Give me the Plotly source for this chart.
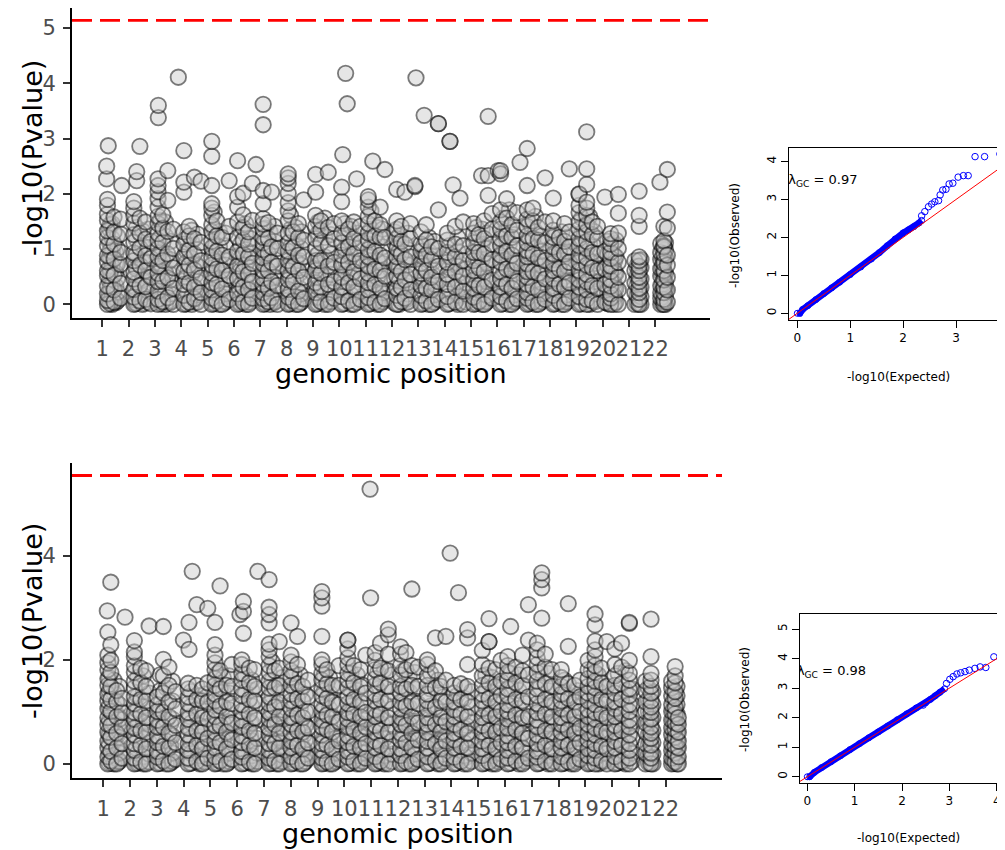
import plotly.graph_objects as go

# page body adds an 8px margin; the figure is shrunk and shifted so that
# reference pixel positions land where they belong in the 1005x850 window
OFF = 8
W, H = 1005 - OFF, 850 - OFF

# ---------------- Manhattan data (x = chromosome + relative position, values = -log10 P) -------------
chrom_ticks = list(range(1, 23))
chrom_labels = [str(c) for c in chrom_ticks]

top_col_x = [
    1.30, 1.20, 1.17, 1.23, 1.45, 1.70, 1.74,
    2.20, 2.31, 2.43, 2.65, 2.85,
    3.12, 3.13, 3.30, 3.49, 3.70,
    3.89, 4.10, 4.30, 4.50, 4.75,
    5.16, 5.35, 5.55, 5.82,
    6.14, 6.35, 6.55, 6.70, 6.84,
    7.11, 7.30, 7.43, 7.65,
    8.06, 8.25, 8.45, 8.65,
    9.10, 9.30, 9.58, 9.80,
    10.09, 10.13, 10.24, 10.30, 10.35, 10.55, 10.66, 10.80,
    11.10, 11.27, 11.35, 11.55, 11.73,
    12.18, 12.35, 12.49, 12.70, 12.87, 12.91,
    13.10, 13.22, 13.30, 13.50, 13.76,
    14.10, 14.20, 14.32, 14.40, 14.58, 14.70,
    15.10, 15.30, 15.40, 15.50, 15.65, 15.80,
    16.03, 16.12, 16.35, 16.55, 16.75, 16.86,
    17.13, 17.35, 17.55, 17.81,
    18.12, 18.35, 18.55, 18.73,
    19.10, 19.39, 19.60, 19.80,
    20.08, 20.30, 20.59,
    21.22, 21.38,
    22.20, 22.17, 22.32, 22.45,
]
top_col_y = [
    [0.02, 0.31, 0.58, 0.97, 1.44], [0.0, 0.07, 0.19, 0.33, 0.52, 0.61, 0.77, 0.88, 1.06, 1.21, 1.33, 1.52, 1.63, 1.79, 1.9],
    [2.27, 2.50], [2.87], [0.04, 0.26, 0.53, 0.82, 1.09, 1.31, 1.58], [0.11, 0.38, 0.72, 0.94, 1.27, 1.54], [2.15],
    [0.0, 0.13, 0.27, 0.46, 0.58, 0.79, 0.93, 1.12, 1.26, 1.47, 1.61, 1.74, 1.86], [2.24, 2.40],
    [0.06, 0.34, 0.71, 1.02, 1.29, 1.56, 2.86], [0.09, 0.32, 0.61, 0.88, 1.18, 1.49], [0.01, 0.49, 0.83, 1.14],
    [0.0, 0.09, 0.24, 0.41, 0.56, 0.69, 0.86, 1.01, 1.16, 1.28, 1.46, 1.59, 1.76, 1.91, 2.04, 2.15, 2.27], [3.38, 3.60],
    [0.05, 0.42, 0.79, 1.12, 1.38, 1.62], [0.12, 0.48, 0.91, 1.32, 1.88, 2.42], [0.0, 0.29, 0.66, 1.01, 1.36],
    [4.11], [0.0, 0.16, 0.36, 0.59, 0.86, 1.09, 1.31, 2.03, 2.21, 2.78], [0.04, 0.39, 0.71, 0.98, 1.24, 1.41],
    [0.1, 0.31, 0.62, 0.91, 1.19, 2.30], [0.0, 0.21, 0.48, 0.79, 1.12, 2.23],
    [0.0, 0.11, 0.26, 0.39, 0.56, 0.71, 0.84, 1.02, 1.14, 1.31, 1.44, 1.61, 1.74, 1.82, 2.15, 2.68, 2.95],
    [0.06, 0.36, 0.64, 0.96, 1.24, 1.51], [0.0, 0.28, 0.61, 0.89, 1.21], [0.09, 0.52, 0.86, 1.41, 2.24],
    [0.0, 0.19, 0.46, 0.69, 0.96, 1.21, 1.49, 1.76, 1.95, 2.60], [0.04, 0.31, 0.59, 0.91, 1.16, 1.39, 1.62, 2.01],
    [0.0, 0.26, 0.54, 0.86, 1.09, 1.31], [0.11, 0.41, 0.74, 1.52, 2.19], [2.53],
    [0.0, 0.1, 0.21, 0.36, 0.47, 0.61, 0.73, 0.84, 0.99, 1.11, 1.21, 1.36, 1.45, 1.55, 1.82, 2.06, 3.25, 3.62],
    [0.05, 0.29, 0.61, 0.92, 1.19, 1.48], [0.12, 0.41, 0.76, 1.04, 2.03], [0.0, 0.34, 0.69, 1.01, 1.29],
    [0.0, 0.13, 0.27, 0.44, 0.61, 0.79, 0.96, 1.11, 1.29, 1.51, 1.69, 1.84, 2.01, 2.19, 2.29, 2.36],
    [0.06, 0.41, 0.68, 1.02, 1.31], [0.0, 0.24, 0.61, 0.89, 1.21, 1.46], [0.1, 0.49, 0.86, 1.16, 1.89],
    [0.0, 0.21, 0.39, 0.61, 0.79, 1.01, 1.19, 1.41, 1.61, 2.03, 2.35], [0.05, 0.31, 0.56, 0.79, 1.11, 1.34, 1.51],
    [0.0, 0.36, 0.69, 1.06, 1.39, 2.39], [0.11, 0.41, 0.76, 1.19, 1.46],
    [0.0, 0.14, 0.31, 0.49, 0.71, 0.89, 1.11, 1.29, 1.51, 1.86, 2.12], [2.71], [4.18], [3.63],
    [0.06, 0.39, 0.76, 1.04, 1.36], [0.0, 0.31, 0.59, 0.91, 1.19, 1.49], [2.27], [0.09, 0.46, 0.79, 1.11, 1.41],
    [0.0, 0.12, 0.26, 0.39, 0.56, 0.69, 0.86, 0.99, 1.16, 1.29, 1.46, 1.59, 1.76, 1.89, 1.95], [2.59],
    [0.04, 0.36, 0.64, 0.96, 1.24, 1.51], [0.0, 0.29, 0.61, 0.89, 1.21, 1.44, 1.76], [0.1, 0.51, 0.84, 1.21, 2.44],
    [0.0, 0.16, 0.29, 0.51, 0.69, 0.86, 1.01, 1.19, 1.36, 1.51, 2.08], [0.05, 0.31, 0.59, 0.91, 1.14, 1.41],
    [0.11, 0.44, 0.81, 1.09, 2.03], [0.0, 0.26, 0.54, 0.86, 1.19, 1.46], [2.13, 2.15], [4.10],
    [0.0, 0.16, 0.34, 0.56, 0.74, 0.96, 1.09, 1.31], [3.42], [0.06, 0.29, 0.61, 0.89, 1.16, 1.44],
    [0.0, 0.26, 0.49, 0.81, 1.04], [0.09, 0.41, 0.69, 1.01, 1.71, 3.27, 3.27],
    [0.0, 0.14, 0.36, 0.54, 0.76, 0.94, 1.16, 1.29], [2.95, 2.95], [2.16], [0.04, 0.31, 0.59, 0.86, 1.09, 1.41],
    [1.92], [0.0, 0.24, 0.51, 0.79, 1.06, 1.49],
    [0.0, 0.13, 0.29, 0.44, 0.61, 0.79, 0.94, 1.11, 1.29, 1.46], [0.05, 0.34, 0.66, 0.94, 1.26], [2.33],
    [0.0, 0.31, 0.59, 0.91, 1.19, 1.51], [1.97, 2.33, 3.40], [0.11, 0.44, 0.81, 1.09, 1.36, 1.64],
    [2.42], [0.0, 0.14, 0.31, 0.46, 0.59, 0.76, 0.89, 1.06, 1.19, 1.36, 1.49, 1.71, 2.36, 2.42],
    [0.06, 0.36, 0.64, 0.96, 1.24, 1.56, 1.91], [0.0, 0.29, 0.61, 0.89, 1.21, 1.44],
    [0.1, 0.41, 0.74, 1.06, 1.34, 1.66], [2.57],
    [0.0, 0.11, 0.21, 0.36, 0.49, 0.59, 0.73, 0.86, 0.97, 1.11, 1.24, 1.41, 1.54, 1.71, 2.15, 2.82],
    [0.04, 0.31, 0.59, 0.91, 1.19, 1.51, 1.74], [0.0, 0.26, 0.56, 0.84, 1.16, 1.39], [0.09, 0.46, 0.79, 1.11, 1.49, 2.29],
    [0.0, 0.16, 0.29, 0.46, 0.61, 0.74, 0.91, 1.04, 1.21, 1.34, 1.51, 1.92], [0.05, 0.36, 0.64, 0.94, 1.21],
    [0.0, 0.31, 0.59, 0.91, 1.14, 1.46], [0.11, 0.39, 0.76, 1.04, 1.31, 2.45],
    [0.0, 0.14, 0.31, 0.44, 0.61, 0.76, 0.89, 1.06, 1.19, 1.36, 1.49, 1.66, 1.79, 1.99, 2.0],
    [0.0, 0.09, 0.26, 0.41, 0.54, 0.71, 0.84, 1.01, 1.14, 1.31, 1.44, 1.61, 1.74, 1.85, 2.17, 2.45, 3.12],
    [0.06, 0.34, 0.66, 0.94, 1.26, 1.49], [0.0, 0.29, 0.61, 0.91, 1.19, 1.41],
    [0.04, 0.36, 0.64, 0.96, 1.94], [0.0, 0.11, 0.19, 0.33, 0.44, 0.59, 0.69, 0.83, 0.94, 1.09, 1.19, 1.28],
    [0.0, 0.26, 0.49, 0.76, 1.01, 1.29, 1.65, 1.99],
    [0.0, 0.21, 0.39, 0.61, 0.79], [0.0, 0.09, 0.21, 0.29, 0.41, 0.49, 0.61, 0.69, 0.79, 0.86, 1.41, 1.61, 2.05],
    [0.0, 0.11, 0.21, 0.34, 0.51, 0.64, 0.81, 0.94, 1.1], [2.21],
    [0.05, 0.29, 0.56, 0.79, 1.06, 1.41, 0.0, 0.09, 0.21, 0.31, 0.44, 0.61, 0.74, 0.91, 1.04, 1.15],
    [0.04, 0.26, 0.49, 0.71, 0.89, 1.38, 1.67, 2.44],
]

# additional (less prominent) SNP stacks filling each chromosome block
top_fill_x = [
    1.27, 1.38, 1.58, 2.30, 2.53, 2.75, 3.20, 3.40, 3.60, 4.20, 4.40, 4.62,
    5.25, 5.45, 5.68, 6.25, 6.45, 6.62, 7.20, 7.37, 7.55, 8.15, 8.35, 8.56,
    9.20, 9.45, 9.68, 10.20, 10.45, 10.70, 11.20, 11.45, 11.65, 12.10, 12.27, 12.60,
    13.20, 13.40, 13.62, 14.18, 14.50, 14.82, 15.20, 15.42, 15.60, 16.22, 16.45, 16.65,
    17.22, 17.45, 17.68, 18.20, 18.45, 18.64, 19.20, 19.50, 19.70, 20.18, 20.42, 20.50,
    21.30, 21.45, 22.26, 22.38,
]
top_fill_y = [
    [0.03, 0.18, 0.42, 0.66, 0.86, 1.13, 1.37], [0.0, 0.14, 0.36, 0.69, 0.95, 1.19, 1.46], [0.06, 0.22, 0.47, 0.73, 1.01, 1.24],
    [0.02, 0.19, 0.39, 0.64, 0.91, 1.17, 1.39], [0.0, 0.16, 0.44, 0.77, 1.06, 1.33], [0.04, 0.24, 0.53, 0.76, 1.03, 1.36],
    [0.02, 0.17, 0.46, 0.74, 0.93, 1.21, 1.52], [0.0, 0.21, 0.57, 0.86, 1.24, 1.49], [0.05, 0.19, 0.44, 0.81, 1.14],
    [0.01, 0.23, 0.49, 0.76, 0.97, 1.19], [0.0, 0.14, 0.54, 0.83, 1.13, 1.34], [0.04, 0.17, 0.41, 0.69, 0.99, 1.27],
    [0.02, 0.21, 0.47, 0.79, 1.07, 1.36, 1.67], [0.0, 0.16, 0.43, 0.74, 1.04, 1.32], [0.05, 0.19, 0.46, 0.71, 1.06, 1.29],
    [0.02, 0.13, 0.36, 0.61, 0.84, 1.09, 1.34], [0.0, 0.17, 0.44, 0.71, 0.99, 1.26, 1.46], [0.04, 0.19, 0.39, 0.66, 0.94, 1.19],
    [0.02, 0.16, 0.41, 0.66, 0.91, 1.16, 1.38], [0.0, 0.19, 0.46, 0.74, 1.01, 1.31], [0.05, 0.21, 0.49, 0.81, 1.14, 1.41],
    [0.02, 0.21, 0.51, 0.74, 1.04, 1.36, 1.61], [0.0, 0.14, 0.46, 0.79, 1.09, 1.39], [0.04, 0.19, 0.39, 0.71, 1.01, 1.31],
    [0.02, 0.13, 0.31, 0.49, 0.71, 0.91, 1.29, 1.49], [0.0, 0.19, 0.46, 0.86, 1.21, 1.56], [0.05, 0.21, 0.54, 0.91, 1.26],
    [0.02, 0.21, 0.41, 0.61, 0.81, 1.01, 1.24, 1.46], [0.0, 0.17, 0.49, 0.86, 1.14, 1.41], [0.04, 0.23, 0.51, 0.73, 1.01, 1.29],
    [0.02, 0.19, 0.46, 0.79, 1.06, 1.36, 1.69], [0.0, 0.17, 0.49, 0.79, 1.11, 1.39], [0.05, 0.21, 0.46, 0.74, 1.04, 1.36],
    [0.02, 0.24, 0.46, 0.76, 1.11, 1.31], [0.0, 0.21, 0.41, 0.66, 0.96, 1.24], [0.05, 0.19, 0.39, 0.71, 0.99, 1.29],
    [0.02, 0.24, 0.46, 0.66, 0.86, 1.06], [0.0, 0.14, 0.41, 0.71, 0.96, 1.21], [0.04, 0.17, 0.36, 0.61, 0.89, 1.14],
    [0.02, 0.24, 0.46, 0.66, 0.86, 1.06], [0.0, 0.16, 0.41, 0.69, 0.96, 1.21], [0.04, 0.19, 0.39, 0.64, 0.91],
    [0.02, 0.21, 0.39, 0.56, 0.84, 1.04, 1.21, 1.39], [0.0, 0.19, 0.46, 0.81, 1.09, 1.36], [0.05, 0.16, 0.41, 0.74, 1.01, 1.29],
    [0.02, 0.21, 0.39, 0.54, 0.84, 1.11, 1.29, 1.56], [0.0, 0.19, 0.46, 0.79, 1.09, 1.39, 1.71], [0.05, 0.17, 0.44, 0.76, 1.01, 1.26],
    [0.02, 0.16, 0.29, 0.44, 0.66, 0.91, 1.19, 1.46], [0.0, 0.17, 0.44, 0.74, 1.04, 1.31, 1.59], [0.05, 0.19, 0.39, 0.71, 0.96, 1.24],
    [0.02, 0.21, 0.39, 0.56, 0.81, 1.11, 1.26], [0.0, 0.19, 0.46, 0.79, 1.06, 1.31], [0.05, 0.17, 0.44, 0.69, 0.96, 1.21],
    [0.02, 0.21, 0.39, 0.54, 0.84, 1.11, 1.29, 1.56], [0.0, 0.17, 0.46, 0.79, 1.09, 1.39, 1.59], [0.05, 0.19, 0.41, 0.74, 1.04, 1.31],
    [0.02, 0.21, 0.46, 0.71, 0.91, 1.14], [0.0, 0.16, 0.39, 0.64, 0.89, 1.11], [0.04, 0.29, 0.56, 0.86, 1.16],
    [0.02, 0.16, 0.34, 0.51, 0.69], [0.0, 0.14, 0.31, 0.46, 0.66, 0.81],
    [0.02, 0.16, 0.36, 0.54, 0.69, 0.86, 1.01], [0.0, 0.14, 0.26, 0.39, 0.56, 0.84, 0.99, 1.11],
]

# many low-significance SNPs near the base of each chromosome block
top_base_x = [
    1.34, 1.52, 2.25, 2.58, 3.25, 3.55, 4.15, 4.55, 5.21, 5.62, 6.20, 6.50,
    7.16, 7.50, 8.10, 8.50, 9.15, 9.52, 10.15, 10.50, 11.15, 11.50, 12.22, 12.55,
    13.15, 13.55, 14.15, 14.55, 15.15, 15.55, 16.18, 16.60, 17.18, 17.60, 18.16, 18.60,
    19.15, 19.55, 20.20, 20.45, 21.34, 22.28,
]
top_base_y = [
    [0.01, 0.12, 0.27, 0.49, 0.63, 0.81], [0.03, 0.09, 0.33, 0.57, 0.74, 0.93],
    [0.01, 0.08, 0.31, 0.52, 0.69, 0.88], [0.02, 0.11, 0.24, 0.47, 0.66, 0.79],
    [0.01, 0.13, 0.29, 0.51, 0.71, 0.97], [0.02, 0.07, 0.34, 0.56, 0.78],
    [0.01, 0.09, 0.28, 0.44, 0.69, 0.91], [0.03, 0.12, 0.26, 0.53, 0.74],
    [0.01, 0.08, 0.31, 0.49, 0.66, 0.93], [0.02, 0.13, 0.36, 0.58, 0.81],
    [0.01, 0.11, 0.27, 0.51, 0.73, 0.89], [0.03, 0.09, 0.32, 0.54, 0.77],
    [0.01, 0.14, 0.29, 0.52, 0.76, 0.94], [0.02, 0.08, 0.27, 0.49, 0.71],
    [0.01, 0.09, 0.33, 0.51, 0.72, 0.91], [0.02, 0.12, 0.29, 0.56, 0.79],
    [0.01, 0.11, 0.26, 0.48, 0.69, 0.89], [0.03, 0.09, 0.31, 0.53, 0.76],
    [0.01, 0.13, 0.28, 0.51, 0.73, 0.96], [0.02, 0.08, 0.34, 0.56, 0.79],
    [0.01, 0.09, 0.31, 0.49, 0.71, 0.94], [0.02, 0.12, 0.27, 0.53, 0.76],
    [0.01, 0.11, 0.29, 0.52, 0.74, 0.91], [0.03, 0.09, 0.33, 0.51, 0.78],
    [0.01, 0.12, 0.27, 0.49, 0.69, 0.86], [0.02, 0.08, 0.31, 0.54, 0.76],
    [0.01, 0.09, 0.28, 0.51, 0.71, 0.89], [0.03, 0.13, 0.32, 0.56, 0.74],
    [0.01, 0.11, 0.31, 0.52, 0.73, 0.94], [0.02, 0.09, 0.27, 0.49, 0.77],
    [0.01, 0.12, 0.29, 0.51, 0.76, 0.93], [0.03, 0.08, 0.33, 0.54, 0.79],
    [0.01, 0.09, 0.27, 0.49, 0.72, 0.96], [0.02, 0.13, 0.31, 0.56, 0.78],
    [0.01, 0.11, 0.33, 0.52, 0.71, 0.89], [0.03, 0.09, 0.28, 0.51, 0.76],
    [0.01, 0.12, 0.29, 0.51, 0.74, 0.93], [0.02, 0.08, 0.32, 0.54, 0.77],
    [0.01, 0.09, 0.27, 0.49, 0.69, 0.91], [0.03, 0.13, 0.31, 0.56, 0.79],
    [0.01, 0.11, 0.26, 0.44, 0.62], [0.01, 0.08, 0.23, 0.41, 0.63, 0.81],
]

bot_col_x = [
    1.17, 1.15, 1.28, 1.50, 1.70, 1.81,
    2.16, 2.40, 2.60, 2.71,
    3.02, 3.24, 3.45, 3.70, 3.99,
    4.17, 4.20, 4.32, 4.49, 4.70, 4.90,
    5.17, 5.36, 5.60, 5.80,
    6.10, 6.17, 6.23, 6.45, 6.65, 6.77,
    7.19, 7.40, 7.57,
    8.01, 8.25, 8.45, 8.65,
    9.16, 9.35, 9.55, 9.80,
    10.13, 10.35, 10.60, 10.80,
    10.96, 10.98, 11.15, 11.35, 11.64,
    12.10, 12.30, 12.52, 12.75,
    13.10, 13.40, 13.60, 13.79,
    13.95, 14.10, 14.26, 14.35, 14.60,
    15.15, 15.40, 15.65, 15.85,
    16.10, 16.21, 16.40, 16.65, 16.87,
    17.20, 17.37, 17.50, 17.75,
    18.10, 18.36, 18.60, 18.80,
    19.10, 19.36, 19.60, 19.80,
    20.10, 20.35, 20.64,
    21.25, 21.45,
    22.22, 22.35, 22.47,
]
bot_col_y = [
    [0.0, 0.14, 0.31, 0.44, 0.61, 0.76, 0.89, 1.06, 1.21, 1.34, 1.51, 1.64, 1.81, 1.94, 2.09, 2.53], [2.94],
    [0.06, 0.24, 0.51, 0.74, 1.01, 1.24, 1.49, 1.76, 1.99, 2.29, 3.49], [0.0, 0.31, 0.59, 0.91, 1.19, 1.41],
    [0.11, 0.39, 0.71, 0.99, 1.26], [2.82],
    [0.0, 0.11, 0.26, 0.39, 0.56, 0.69, 0.86, 0.99, 1.16, 1.29, 1.46, 1.59, 1.76, 1.89, 2.06, 2.15, 2.37],
    [0.04, 0.36, 0.64, 0.96, 1.24, 1.56, 1.84], [0.0, 0.29, 0.61, 0.89, 1.21, 1.49, 1.79], [2.65],
    [0.0, 0.13, 0.24, 0.41, 0.54, 0.71, 0.84, 1.01, 1.14, 1.29], [0.06, 0.34, 0.71, 0.99, 1.36, 1.69, 2.01, 2.64],
    [0.0, 0.31, 0.59, 0.91, 1.19, 1.51, 1.86], [0.09, 0.41, 0.74, 1.06, 1.39], [2.38],
    [0.0, 0.11, 0.26, 0.39, 0.56, 0.69, 0.86, 0.99, 1.16, 1.29, 1.44, 1.55], [2.20, 2.72], [3.70],
    [0.05, 0.36, 0.64, 0.96, 1.24, 1.51, 3.06], [0.0, 0.29, 0.61, 0.89, 1.21, 1.44], [0.11, 0.49, 0.86, 1.19, 1.56, 2.99],
    [0.0, 0.14, 0.31, 0.44, 0.61, 0.74, 0.91, 1.04, 1.21, 1.34, 1.51, 1.64, 1.81, 1.94, 2.09, 2.29, 2.72],
    [0.06, 0.41, 0.74, 1.11, 1.44, 1.79, 3.42], [0.0, 0.29, 0.61, 0.91, 1.19, 1.51], [0.09, 0.46, 0.79, 1.16, 1.49, 1.91],
    [2.87], [0.0, 0.13, 0.24, 0.41, 0.54, 0.71, 0.84, 1.01, 1.14, 1.31, 1.44, 1.61, 1.74, 1.91, 2.0],
    [2.51, 2.93, 3.12], [0.04, 0.36, 0.64, 0.96, 1.24, 1.56, 1.84], [0.0, 0.31, 0.59, 0.89, 1.21, 1.49, 1.81], [3.70],
    [0.0, 0.11, 0.26, 0.39, 0.56, 0.69, 0.86, 0.99, 1.16, 1.29, 1.46, 1.59, 1.76, 1.89, 2.06, 2.19, 2.3, 2.71, 2.87, 3.01, 3.54],
    [0.06, 0.39, 0.76, 1.09, 1.46, 1.79], [0.0, 0.31, 0.59, 0.91, 1.19, 1.51, 1.84, 2.35],
    [0.0, 0.14, 0.31, 0.44, 0.61, 0.76, 0.89, 1.06, 1.21, 1.34, 1.51, 1.66, 1.79, 1.96, 2.09, 2.71],
    [0.05, 0.36, 0.64, 0.94, 1.26, 1.54, 1.91, 2.45], [0.0, 0.29, 0.61, 0.89, 1.21, 1.49], [0.11, 0.41, 0.69, 1.01, 1.29, 1.61],
    [0.0, 0.11, 0.26, 0.39, 0.56, 0.71, 0.84, 1.01, 1.14, 1.31, 1.44, 1.61, 1.74, 1.91, 2.0, 2.45, 3.03, 3.19, 3.31],
    [0.04, 0.36, 0.66, 0.94, 1.26, 1.54, 1.81], [0.0, 0.29, 0.61, 0.91, 1.19, 1.51], [0.09, 0.44, 0.81, 1.14, 1.51, 1.89],
    [0.0, 0.13, 0.24, 0.41, 0.54, 0.71, 0.86, 0.99, 1.16, 1.29, 1.46, 1.61, 1.74, 1.91, 2.04, 2.21, 2.38, 2.38],
    [0.06, 0.34, 0.66, 0.96, 1.24, 1.56, 1.89], [0.0, 0.31, 0.59, 0.91, 1.19, 1.49, 1.81], [0.11, 0.39, 0.71, 0.99, 1.36, 2.09],
    [5.28], [3.19], [0.0, 0.14, 0.31, 0.44, 0.61, 0.74, 0.91, 1.04, 1.21, 1.34, 1.51, 1.64, 1.81, 1.99, 2.14],
    [0.05, 0.36, 0.64, 0.96, 1.24, 1.56, 1.84, 2.32], [0.0, 0.29, 0.61, 0.89, 1.21, 1.49, 1.79, 2.11, 2.48, 2.59],
    [0.0, 0.16, 0.29, 0.46, 0.59, 0.76, 0.89, 1.06, 1.19, 1.36, 1.49, 1.71, 1.89, 2.11, 2.25],
    [0.04, 0.41, 0.74, 1.11, 1.44, 1.81, 2.14], [0.0, 0.31, 0.59, 0.91, 1.19, 1.51, 1.89, 3.36],
    [0.09, 0.46, 0.79, 1.16, 1.49, 1.86],
    [0.0, 0.14, 0.31, 0.44, 0.61, 0.76, 0.89, 1.06, 1.21, 1.34, 1.51, 1.69, 1.91, 2.0],
    [0.06, 0.39, 0.76, 1.09, 1.46, 1.79, 2.42], [0.0, 0.29, 0.61, 0.89, 1.21, 1.49], [0.11, 0.44, 0.81, 1.19, 1.61, 2.45],
    [4.05], [0.0, 0.13, 0.31, 0.46, 0.59, 0.76, 0.91, 1.04, 1.19, 1.36, 1.51], [3.29],
    [0.05, 0.34, 0.66, 0.96, 1.24, 1.54], [0.0, 0.31, 0.59, 0.91, 1.19, 1.49, 1.91, 2.42, 2.58],
    [0.0, 0.16, 0.29, 0.44, 0.61, 0.74, 0.89, 1.06, 1.21, 1.34, 1.51, 1.69, 1.91, 2.18],
    [0.04, 0.36, 0.64, 0.94, 1.26, 1.56, 1.84, 2.35, 2.35, 2.79], [0.0, 0.29, 0.61, 0.91, 1.19, 1.49, 1.81],
    [0.09, 0.41, 0.69, 1.01, 1.31, 1.59, 1.99],
    [0.0, 0.11, 0.26, 0.41, 0.54, 0.69, 0.86, 1.01, 1.14, 1.31, 1.44, 1.61, 1.76, 1.89, 2.06], [2.64],
    [0.06, 0.34, 0.66, 0.94, 1.24, 1.56, 1.86], [0.0, 0.31, 0.59, 0.89, 1.21, 1.51, 1.79, 2.09],
    [0.11, 0.49, 0.91, 1.29, 1.71, 2.38, 3.06],
    [0.0, 0.13, 0.24, 0.39, 0.56, 0.71, 0.84, 0.99, 1.16, 1.31, 1.44, 1.59, 1.76, 1.91, 2.04, 2.19, 2.32],
    [2.80, 3.38, 3.54, 3.67], [0.05, 0.36, 0.64, 0.96, 1.24, 1.54, 1.86, 2.11], [0.0, 0.29, 0.61, 0.91, 1.19, 1.49, 1.81],
    [0.0, 0.14, 0.31, 0.44, 0.61, 0.76, 0.89, 1.06, 1.21, 1.34, 1.49, 1.66, 1.81],
    [0.04, 0.36, 0.66, 0.94, 1.26, 1.54, 2.26, 3.08], [0.0, 0.31, 0.59, 0.91, 1.19, 1.51], [0.09, 0.41, 0.69, 1.01, 1.29, 1.61],
    [0.0, 0.16, 0.29, 0.46, 0.59, 0.76, 0.91, 1.04, 1.21, 1.36, 1.49, 1.64, 1.81, 1.99],
    [0.0, 0.11, 0.26, 0.39, 0.56, 0.69, 0.86, 0.99, 1.14, 1.31, 1.46, 1.59, 1.76, 1.89, 2.06, 2.19, 2.36, 2.67, 2.88],
    [0.06, 0.34, 0.64, 0.96, 1.24, 1.56, 1.84], [0.0, 0.29, 0.61, 0.89, 1.21, 1.49, 2.35],
    [0.0, 0.14, 0.31, 0.44, 0.61, 0.74, 0.91, 1.06, 1.19, 1.36, 1.51, 1.69, 1.91, 2.21],
    [0.05, 0.36, 0.64, 0.96, 1.24, 1.54, 1.86, 2.32],
    [0.0, 0.11, 0.26, 0.39, 0.56, 0.71, 0.84, 1.01, 1.14, 1.31, 1.44, 1.61, 1.74, 1.99, 2.70, 2.72],
    [0.0, 0.21, 0.39, 0.61, 0.79, 1.01, 1.19, 1.41, 1.59],
    [0.0, 0.11, 0.21, 0.36, 0.49, 0.59, 0.71, 0.86, 0.99, 1.09, 1.21, 1.36, 1.49, 1.61, 1.74, 2.06, 2.78],
    [0.0, 0.11, 0.26, 0.39, 0.56, 0.69, 0.84, 1.01, 1.14, 1.31, 1.46, 1.59],
    [0.04, 0.21, 0.34, 0.51, 0.66, 0.79, 0.96, 1.09, 1.26, 1.39, 1.56, 1.69, 1.87],
    [0.0, 0.14, 0.31, 0.44, 0.61, 0.76, 0.89],
]

bot_fill_x = [
    1.22, 1.40, 1.60, 2.28, 2.50, 2.72, 3.12, 3.35, 3.58, 4.28, 4.60, 4.80,
    5.26, 5.48, 5.70, 6.30, 6.55, 6.75, 7.30, 7.48, 7.68, 8.12, 8.35, 8.55,
    9.25, 9.45, 9.68, 10.25, 10.48, 10.70, 11.25, 11.50, 11.78, 12.20, 12.42, 12.63,
    13.22, 13.50, 13.70, 14.20, 14.48, 14.75, 15.28, 15.52, 15.75, 16.22, 16.52, 16.76,
    17.30, 17.62, 17.85, 18.22, 18.48, 18.70, 19.22, 19.48, 19.70, 20.22, 20.50, 20.75,
    21.35, 21.52, 22.28, 22.42,
]
bot_fill_y = [
    [0.02, 0.19, 0.38, 0.56, 0.83, 1.11, 1.39, 1.66], [0.0, 0.16, 0.44, 0.79, 1.09, 1.36, 1.61], [0.05, 0.21, 0.51, 0.86, 1.14, 1.49],
    [0.02, 0.21, 0.46, 0.74, 1.04, 1.31, 1.66], [0.0, 0.14, 0.49, 0.81, 1.11, 1.39, 1.69], [0.04, 0.19, 0.41, 0.76, 1.06, 1.36],
    [0.02, 0.19, 0.46, 0.79, 1.06, 1.41, 1.71], [0.0, 0.16, 0.44, 0.84, 1.14, 1.46], [0.05, 0.21, 0.54, 0.86, 1.21, 1.59],
    [0.02, 0.21, 0.49, 0.79, 1.11, 1.39], [0.0, 0.16, 0.44, 0.74, 1.06, 1.31], [0.04, 0.19, 0.39, 0.69, 1.01, 1.34],
    [0.02, 0.24, 0.51, 0.84, 1.16, 1.46, 1.74], [0.0, 0.17, 0.46, 0.79, 1.09, 1.39, 1.66], [0.05, 0.21, 0.49, 0.76, 1.04, 1.36, 1.69],
    [0.02, 0.19, 0.46, 0.76, 1.06, 1.39, 1.71], [0.0, 0.16, 0.44, 0.79, 1.11, 1.41, 1.61], [0.05, 0.21, 0.49, 0.84, 1.16, 1.44],
    [0.02, 0.19, 0.46, 0.74, 1.01, 1.31, 1.61, 1.96], [0.0, 0.21, 0.51, 0.84, 1.16, 1.51], [0.05, 0.17, 0.44, 0.69, 1.04, 1.36, 1.66],
    [0.02, 0.21, 0.49, 0.79, 1.11, 1.44, 1.74], [0.0, 0.16, 0.44, 0.76, 1.06, 1.39, 1.71], [0.05, 0.19, 0.46, 0.74, 1.01, 1.34],
    [0.02, 0.19, 0.46, 0.81, 1.09, 1.41, 1.71], [0.0, 0.16, 0.44, 0.76, 1.06, 1.36, 1.66], [0.05, 0.21, 0.49, 0.79, 1.14, 1.46],
    [0.02, 0.19, 0.49, 0.81, 1.11, 1.41, 1.74], [0.0, 0.16, 0.46, 0.79, 1.09, 1.41, 1.71], [0.05, 0.21, 0.51, 0.84, 1.16, 1.51],
    [0.02, 0.21, 0.46, 0.79, 1.11, 1.44, 1.76], [0.0, 0.16, 0.49, 0.84, 1.16, 1.46, 1.81], [0.05, 0.19, 0.44, 0.76, 1.06, 1.39, 1.71],
    [0.02, 0.21, 0.49, 0.81, 1.14, 1.46, 1.79], [0.0, 0.16, 0.44, 0.76, 1.09, 1.39, 1.69], [0.05, 0.19, 0.46, 0.79, 1.11, 1.44, 1.76],
    [0.02, 0.21, 0.49, 0.81, 1.11, 1.44, 1.74], [0.0, 0.16, 0.44, 0.76, 1.06, 1.36, 1.61], [0.05, 0.19, 0.46, 0.74, 1.01, 1.29],
    [0.02, 0.19, 0.44, 0.74, 1.04, 1.31], [0.0, 0.16, 0.41, 0.69, 0.99, 1.26, 1.46], [0.05, 0.21, 0.46, 0.79, 1.09, 1.39],
    [0.02, 0.19, 0.46, 0.79, 1.09, 1.41, 1.71], [0.0, 0.16, 0.44, 0.74, 1.06, 1.39, 1.66], [0.05, 0.21, 0.49, 0.81, 1.14, 1.46],
    [0.02, 0.19, 0.46, 0.79, 1.11, 1.44, 1.74], [0.0, 0.16, 0.44, 0.76, 1.06, 1.41, 1.71], [0.05, 0.21, 0.49, 0.84, 1.16, 1.49],
    [0.02, 0.19, 0.46, 0.79, 1.11, 1.46, 1.79], [0.0, 0.16, 0.44, 0.76, 1.09, 1.41, 1.74], [0.05, 0.21, 0.49, 0.81, 1.14, 1.49],
    [0.02, 0.19, 0.46, 0.76, 1.06, 1.36, 1.61], [0.0, 0.16, 0.44, 0.74, 1.04, 1.31], [0.05, 0.21, 0.49, 0.79, 1.09, 1.41],
    [0.02, 0.19, 0.46, 0.79, 1.11, 1.44, 1.79], [0.0, 0.16, 0.44, 0.76, 1.09, 1.41, 1.71], [0.05, 0.21, 0.49, 0.81, 1.14, 1.46],
    [0.02, 0.19, 0.46, 0.79, 1.11, 1.44, 1.74], [0.0, 0.16, 0.44, 0.76, 1.09, 1.41, 1.79], [0.05, 0.21, 0.49, 0.81, 1.14, 1.44],
    [0.02, 0.16, 0.36, 0.56, 0.79, 1.01, 1.24, 1.46], [0.0, 0.19, 0.41, 0.64, 0.89, 1.14, 1.39],
    [0.02, 0.16, 0.31, 0.49, 0.66, 0.84, 1.01, 1.21, 1.39], [0.0, 0.11, 0.29, 0.46, 0.61, 0.79, 0.96, 1.14, 1.31, 1.49],
]

bot_base_x = [
    1.33, 1.55, 2.22, 2.55, 3.08, 3.52, 4.24, 4.55, 5.22, 5.65, 6.22, 6.50,
    7.25, 7.52, 8.06, 8.50, 9.20, 9.60, 10.18, 10.55, 11.20, 11.42, 12.15, 12.58,
    13.15, 13.55, 14.15, 14.55, 15.20, 15.60, 16.15, 16.60, 17.25, 17.68, 18.16, 18.55,
    19.16, 19.55, 20.16, 20.42, 21.40, 22.30,
]
bot_base_y = [
    [0.01, 0.12, 0.27, 0.49, 0.63, 0.81, 1.02], [0.03, 0.09, 0.33, 0.57, 0.74, 0.93],
    [0.01, 0.08, 0.31, 0.52, 0.69, 0.88, 1.06], [0.02, 0.11, 0.24, 0.47, 0.66, 0.79],
    [0.01, 0.13, 0.29, 0.51, 0.71, 0.97], [0.02, 0.07, 0.34, 0.56, 0.78],
    [0.01, 0.09, 0.28, 0.44, 0.69, 0.91], [0.03, 0.12, 0.26, 0.53, 0.74],
    [0.01, 0.08, 0.31, 0.49, 0.66, 0.93], [0.02, 0.13, 0.36, 0.58, 0.81],
    [0.01, 0.11, 0.27, 0.51, 0.73, 0.89], [0.03, 0.09, 0.32, 0.54, 0.77],
    [0.01, 0.14, 0.29, 0.52, 0.76, 0.94], [0.02, 0.08, 0.27, 0.49, 0.71],
    [0.01, 0.09, 0.33, 0.51, 0.72, 0.91], [0.02, 0.12, 0.29, 0.56, 0.79],
    [0.01, 0.11, 0.26, 0.48, 0.69, 0.89], [0.03, 0.09, 0.31, 0.53, 0.76],
    [0.01, 0.13, 0.28, 0.51, 0.73, 0.96], [0.02, 0.08, 0.34, 0.56, 0.79],
    [0.01, 0.09, 0.31, 0.49, 0.71, 0.94], [0.02, 0.12, 0.27, 0.53, 0.76],
    [0.01, 0.11, 0.29, 0.52, 0.74, 0.91], [0.03, 0.09, 0.33, 0.51, 0.78],
    [0.01, 0.12, 0.27, 0.49, 0.69, 0.86], [0.02, 0.08, 0.31, 0.54, 0.76],
    [0.01, 0.09, 0.28, 0.51, 0.71, 0.89], [0.03, 0.13, 0.32, 0.56, 0.74],
    [0.01, 0.11, 0.31, 0.52, 0.73, 0.94], [0.02, 0.09, 0.27, 0.49, 0.77],
    [0.01, 0.12, 0.29, 0.51, 0.76, 0.93], [0.03, 0.08, 0.33, 0.54, 0.79],
    [0.01, 0.09, 0.27, 0.49, 0.72, 0.96], [0.02, 0.13, 0.31, 0.56, 0.78],
    [0.01, 0.11, 0.33, 0.52, 0.71, 0.89], [0.03, 0.09, 0.28, 0.51, 0.76],
    [0.01, 0.12, 0.29, 0.51, 0.74, 0.93], [0.02, 0.08, 0.32, 0.54, 0.77],
    [0.01, 0.09, 0.27, 0.49, 0.69, 0.91], [0.03, 0.13, 0.31, 0.56, 0.79],
    [0.01, 0.11, 0.26, 0.44, 0.62, 0.83], [0.01, 0.08, 0.23, 0.41, 0.63, 0.81, 1.02],
]

top_threshold = 5.14
bot_threshold = 5.54

# ---------------- QQ data ----------------
qq1_dense_exp = [0.0, 0.05, 0.1, 0.2, 0.35, 0.5, 0.65, 0.8, 1.0, 1.2, 1.4, 1.55, 1.7, 1.85, 2.0, 2.1, 2.2, 2.3, 2.35]
qq1_dense_obs = [0.0, 0.0, 0.1, 0.2, 0.36, 0.52, 0.67, 0.82, 1.02, 1.22, 1.43, 1.6, 1.78, 1.96, 2.12, 2.2, 2.28, 2.38, 2.45]
qq1_tail_exp = [2.35, 2.41, 2.48, 2.54, 2.60, 2.67, 2.70, 2.75, 2.81, 2.87, 2.94, 3.04, 3.14, 3.23, 3.36, 3.54, 3.83]
qq1_tail_obs = [2.57, 2.68, 2.81, 2.88, 2.94, 2.97, 3.12, 3.25, 3.27, 3.41, 3.43, 3.59, 3.63, 3.63, 4.13, 4.13, 4.20]

qq2_dense_exp = [0.0, 0.05, 0.15, 0.3, 0.5, 0.7, 0.9, 1.1, 1.3, 1.5, 1.7, 1.9, 2.1, 2.3, 2.45, 2.5, 2.6, 2.7, 2.8, 2.9]
qq2_dense_obs = [0.0, 0.0, 0.15, 0.31, 0.51, 0.71, 0.92, 1.12, 1.32, 1.52, 1.72, 1.93, 2.13, 2.33, 2.42, 2.5, 2.62, 2.74, 2.86, 2.98]
qq2_tail_exp = [2.94, 3.01, 3.08, 3.16, 3.24, 3.33, 3.42, 3.54, 3.65, 3.77, 3.94, 4.14]
qq2_tail_obs = [3.16, 3.30, 3.39, 3.48, 3.52, 3.56, 3.61, 3.67, 3.72, 3.70, 4.06, 5.33]
qq_ref = [-1, 7]

lambda_top = "λ<sub>GC</sub> = 0.97"
lambda_bot = "λ<sub>GC</sub> = 0.98"


def fx(p):
    return min(1.0, max(0.0, (p - OFF) / W))


def fy(p):
    return min(1.0, max(0.0, 1 - (p - OFF) / H))


def flatten(cols_x, cols_y):
    xs, ys = [], []
    for cx, vals in zip(cols_x, cols_y):
        for v in vals:
            xs.append(cx)
            ys.append(v)
    return xs, ys


fig = go.Figure()

marker_style = dict(size=15.5, color="rgba(200,200,200,0.45)",
                    line=dict(color="rgba(0,0,0,0.5)", width=1.8))

for cols in [(top_base_x, top_base_y, "x", "y"), (top_fill_x, top_fill_y, "x", "y"),
             (top_col_x, top_col_y, "x", "y"),
             (bot_base_x, bot_base_y, "x2", "y2"), (bot_fill_x, bot_fill_y, "x2", "y2"),
             (bot_col_x, bot_col_y, "x2", "y2")]:
    xs, ys = flatten(cols[0], cols[1])
    fig.add_trace(go.Scatter(x=xs, y=ys, mode="markers", marker=marker_style, xaxis=cols[2],
                             yaxis=cols[3], showlegend=False, hoverinfo="skip", cliponaxis=False))

# QQ plots
blue = "#0000FF"
for (de, do, te, to, xa, ya, lam, lx, ly) in [
    (qq1_dense_exp, qq1_dense_obs, qq1_tail_exp, qq1_tail_obs, "x3", "y3", lambda_top, -0.17, 3.5),
    (qq2_dense_exp, qq2_dense_obs, qq2_tail_exp, qq2_tail_obs, "x4", "y4", lambda_bot, -0.22, 3.54),
]:
    fig.add_trace(go.Scatter(x=de, y=do, mode="lines+markers", xaxis=xa, yaxis=ya,
                             line=dict(color=blue, width=6.5),
                             marker=dict(symbol="circle-open", size=6, color=blue, line=dict(width=1)),
                             showlegend=False, hoverinfo="skip"))
    fig.add_trace(go.Scatter(x=te, y=to, mode="markers", xaxis=xa, yaxis=ya,
                             marker=dict(symbol="circle-open", size=6.5, color=blue, line=dict(width=1)),
                             showlegend=False, hoverinfo="skip"))
    fig.add_trace(go.Scatter(x=qq_ref, y=qq_ref, mode="lines", xaxis=xa, yaxis=ya,
                             line=dict(color="#FF0000", width=1), showlegend=False, hoverinfo="skip"))
    fig.add_trace(go.Scatter(x=[lx], y=[ly], mode="text", text=[lam], textposition="middle right",
                             textfont=dict(family="DejaVu Sans", size=13, color="black"),
                             xaxis=xa, yaxis=ya, showlegend=False, hoverinfo="skip", cliponaxis=True))

man_tickfont = dict(family="DejaVu Sans", size=21, color="#4D4D4D")
man_axis = dict(showline=True, linecolor="black", linewidth=2, ticks="outside", ticklen=7,
                tickwidth=2, tickcolor="#333333", tickfont=man_tickfont, showgrid=False,
                zeroline=False, tickangle=0)
qq_tickfont = dict(family="DejaVu Sans", size=12, color="black")
qq_axis = dict(showline=True, linecolor="black", linewidth=1, ticks="outside", ticklen=7,
               tickwidth=1, tickcolor="black", tickfont=qq_tickfont, showgrid=False, zeroline=False)

fig.update_layout(
    width=W, height=H, margin=dict(l=0, r=0, t=0, b=0),
    paper_bgcolor="white", plot_bgcolor="white", showlegend=False,
    xaxis=dict(domain=[fx(72), fx(710)], range=[-0.146, 24.07], tickvals=chrom_ticks,
               ticktext=chrom_labels, anchor="y", ticklabelstandoff=4, **man_axis),
    yaxis=dict(domain=[fy(318), fy(8)], range=[-0.248, 5.363], tickvals=[0, 1, 2, 3, 4, 5],
               anchor="x", ticklabelstandoff=3, **man_axis),
    xaxis2=dict(domain=[fx(72), fx(722)], range=[-0.169, 24.1], tickvals=chrom_ticks,
                ticktext=chrom_labels, anchor="y2", ticklabelstandoff=4, **man_axis),
    yaxis2=dict(domain=[fy(778), fy(462.5)], range=[-0.27, 5.79], tickvals=[0, 2, 4],
                anchor="x2", ticklabelstandoff=3, **man_axis),
    xaxis3=dict(domain=[fx(789), 1.0], range=[-0.157, 3.926], tickvals=[0, 1, 2, 3],
                anchor="y3", mirror=True, **qq_axis),
    yaxis3=dict(domain=[fy(320), fy(148.3)], range=[-0.177, 4.35], tickvals=[0, 1, 2, 3, 4],
                anchor="x3", tickangle=-90, **qq_axis),
    xaxis4=dict(domain=[fx(800), 1.0], range=[-0.154, 4.175], tickvals=[0, 1, 2, 3, 4],
                anchor="y4", mirror=True, **qq_axis),
    yaxis4=dict(domain=[fy(782.7), fy(614)], range=[-0.2, 5.51], tickvals=[0, 1, 2, 3, 4, 5],
                anchor="x4", tickangle=-90, **qq_axis),
)

for yref, xref, val in [("y", "x", top_threshold), ("y2", "x2", bot_threshold)]:
    fig.add_shape(type="line", xref=f"{xref} domain", yref=yref, x0=0, x1=1, y0=val, y1=val,
                  line=dict(color="#FF0000", width=2.8, dash="20px,8px"), layer="above")

title_font = dict(family="DejaVu Sans", size=27, color="black")
qq_title_font = dict(family="DejaVu Sans", size=12, color="black")
annotations = [
    dict(text="genomic position", x=fx(391), y=fy(373), font=title_font),
    dict(text="genomic position", x=fx(398), y=fy(833), font=title_font),
    dict(text="-log10(Pvalue)", x=fx(32), y=fy(158), font=title_font, textangle=-90),
    dict(text="-log10(Pvalue)", x=fx(32), y=fy(621), font=title_font, textangle=-90),
    dict(text="-log10(Observed)", x=fx(735), y=fy(236), font=qq_title_font, textangle=-90),
    dict(text="-log10(Expected)", x=fx(898), y=fy(377), font=qq_title_font),
    dict(text="-log10(Observed)", x=fx(745), y=fy(700), font=qq_title_font, textangle=-90),
    dict(text="-log10(Expected)", x=fx(908), y=fy(838), font=qq_title_font),
]
for a in annotations:
    fig.add_annotation(xref="paper", yref="paper", showarrow=False, xanchor="center",
                       yanchor="middle", **a)

fig.write_html("out.html")
